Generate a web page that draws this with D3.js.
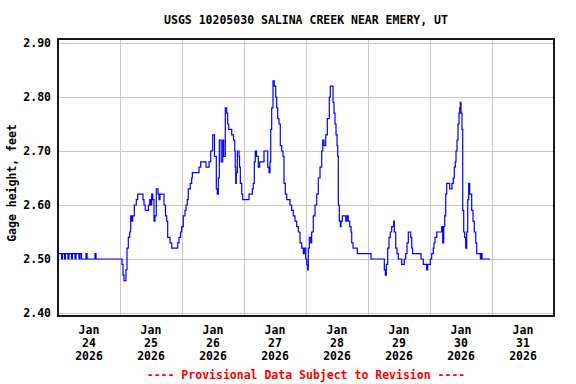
<!DOCTYPE html>
<html>
<head>
<meta charset="utf-8">
<script src="https://cdn.jsdelivr.net/npm/d3@7"></script>
<style>
  body { margin: 0; background: #fff; }
  text { font-family: "DejaVu Sans Mono", monospace; font-weight: bold; }
</style>
</head>
<body>
<div id="chart"></div>
<script>
// Gage height readings: [hours since Jan 24 2026 00:00, feet]
const readings = [
  [0.0, 2.51], [1.35, 2.50], [1.74, 2.51], [2.52, 2.50], [2.90, 2.51], [3.87, 2.50],
  [4.26, 2.51], [5.23, 2.50], [5.61, 2.51], [6.58, 2.50], [6.97, 2.51], [8.13, 2.50],
  [8.52, 2.51], [9.10, 2.50],
  [10.84, 2.51], [11.23, 2.50], [14.32, 2.51], [14.71, 2.50],
  [24.77, 2.49], [25.16, 2.47], [25.55, 2.46], [26.32, 2.48], [26.71, 2.52], [27.21, 2.54],
  [27.75, 2.55], [28.14, 2.58], [28.53, 2.57], [28.92, 2.58], [29.54, 2.60], [30.31, 2.61],
  [30.85, 2.62], [32.90, 2.61], [33.29, 2.60], [33.79, 2.59], [35.03, 2.60], [35.50, 2.61],
  [35.88, 2.60], [36.27, 2.62], [36.66, 2.61], [37.16, 2.57], [37.55, 2.58], [38.05, 2.63],
  [38.71, 2.62], [39.10, 2.61], [39.48, 2.62], [41.03, 2.60], [41.61, 2.58], [42.08, 2.57],
  [42.46, 2.54], [43.35, 2.53], [44.01, 2.52], [46.34, 2.53], [46.84, 2.54], [47.50, 2.55],
  [47.89, 2.56], [48.50, 2.58], [49.16, 2.59], [49.55, 2.60], [50.05, 2.61], [50.44, 2.63],
  [51.21, 2.64], [51.75, 2.65], [51.99, 2.66], [54.58, 2.67], [55.24, 2.68], [57.29, 2.67],
  [58.45, 2.68], [59.11, 2.70], [59.89, 2.73], [60.58, 2.69], [61.28, 2.63], [61.66, 2.62],
  [62.05, 2.65], [62.44, 2.72], [63.17, 2.68], [63.76, 2.72], [64.14, 2.69], [64.76, 2.78],
  [65.30, 2.77], [65.69, 2.75], [66.08, 2.74], [67.24, 2.73], [67.94, 2.72], [68.41, 2.70],
  [68.60, 2.67], [68.80, 2.64], [69.03, 2.66], [69.42, 2.70], [70.08, 2.69], [70.27, 2.67],
  [70.58, 2.64], [71.12, 2.62], [71.50, 2.61], [73.94, 2.62], [75.21, 2.63], [75.60, 2.64],
  [75.99, 2.68], [76.37, 2.70], [76.84, 2.69], [77.54, 2.67], [78.08, 2.68], [79.74, 2.70],
  [81.18, 2.67], [81.68, 2.66], [82.07, 2.68], [82.34, 2.74], [82.72, 2.78], [83.23, 2.83],
  [83.73, 2.82], [84.27, 2.80], [84.66, 2.78], [85.05, 2.76], [85.55, 2.75], [86.05, 2.71],
  [86.60, 2.70], [87.10, 2.69], [87.48, 2.64], [87.99, 2.62], [88.53, 2.61], [89.81, 2.60],
  [90.47, 2.59], [91.09, 2.58], [91.74, 2.57], [92.40, 2.56], [93.02, 2.55], [93.68, 2.53],
  [94.34, 2.52], [94.96, 2.51], [95.35, 2.52], [95.89, 2.50], [96.28, 2.49], [96.66, 2.48],
  [96.89, 2.52], [97.28, 2.54], [97.82, 2.53], [98.21, 2.55], [98.83, 2.58], [99.48, 2.60],
  [100.14, 2.62], [100.76, 2.65], [101.42, 2.67], [102.08, 2.70], [102.47, 2.72], [102.97, 2.71],
  [103.63, 2.73], [104.25, 2.76], [105.02, 2.80], [105.41, 2.82], [106.46, 2.79], [106.84, 2.77],
  [107.23, 2.75], [107.62, 2.73], [108.01, 2.71], [108.28, 2.69], [108.51, 2.60], [108.90, 2.57],
  [109.29, 2.56], [109.55, 2.57], [110.06, 2.58], [111.38, 2.57], [111.88, 2.58], [112.38, 2.57],
  [112.93, 2.56], [113.43, 2.55], [113.70, 2.53], [114.21, 2.52], [115.87, 2.51], [121.16, 2.50],
  [126.31, 2.48], [126.70, 2.47], [127.09, 2.49], [127.63, 2.52], [128.13, 2.54], [128.63, 2.55],
  [129.18, 2.56], [129.95, 2.57], [130.18, 2.55], [130.73, 2.52], [131.23, 2.51], [131.73, 2.50],
  [133.05, 2.49], [134.05, 2.50], [134.59, 2.51], [135.10, 2.53], [135.60, 2.55], [136.53, 2.54],
  [136.92, 2.52], [137.30, 2.51], [140.52, 2.50], [141.41, 2.49], [142.72, 2.48], [143.11, 2.49],
  [144.12, 2.50], [144.66, 2.51], [145.28, 2.52], [145.55, 2.53], [145.94, 2.54], [146.60, 2.55],
  [148.53, 2.56], [148.92, 2.53], [149.31, 2.56], [149.69, 2.58], [150.08, 2.62], [150.47, 2.64],
  [151.63, 2.63], [152.52, 2.64], [153.03, 2.65], [153.41, 2.67], [153.80, 2.68], [154.07, 2.70],
  [154.46, 2.72], [154.84, 2.75], [155.23, 2.77], [155.50, 2.78], [155.73, 2.79], [156.00, 2.77],
  [156.39, 2.74], [156.66, 2.59], [157.05, 2.55], [157.43, 2.54], [157.82, 2.52], [158.21, 2.55],
  [158.60, 2.61], [158.98, 2.64], [159.37, 2.62], [160.14, 2.59], [160.65, 2.57], [161.15, 2.55],
  [161.70, 2.53], [162.08, 2.51], [163.48, 2.50], [163.75, 2.51], [164.14, 2.50], [167.23, 2.50]
];

const yTicks = [2.40, 2.50, 2.60, 2.70, 2.80, 2.90];
const dayLabels = ['2026-01-24', '2026-01-25', '2026-01-26', '2026-01-27',
                   '2026-01-28', '2026-01-29', '2026-01-30', '2026-01-31'];

const title = 'USGS 10205030 SALINA CREEK NEAR EMERY, UT';
const yTitle = 'Gage height, feet';
const footer = '---- Provisional Data Subject to Revision ----';

class GageChart {
  constructor(_config, _data) {
    this.config = {
      parentElement: _config.parentElement,
      containerWidth: 576,
      containerHeight: 384,
      frame: {left: 58, right: 554, top: 39, bottom: 316}
    }
    this.data = _data;
    this.start = Date.UTC(2026, 0, 24);
    this.initVis();
  }

  initVis() {
    let vis = this;
    const f = vis.config.frame;

    vis.xScale = d3.scaleUtc()
      .domain([new Date(vis.start), new Date(Date.UTC(2026, 1, 1))])
      .range([f.left, f.right]);

    // 2.40 .. 2.90 sit a few pixels inside the frame
    vis.yScale = d3.scaleLinear()
      .domain([2.4, 2.9])
      .range([313, 43]);

    vis.svg = d3.select(vis.config.parentElement).append('svg')
      .attr('width', vis.config.containerWidth)
      .attr('height', vis.config.containerHeight);

    vis.gridG = vis.svg.append('g');
    vis.lineG = vis.svg.append('g');
    vis.labelG = vis.svg.append('g');

    vis.renderVis();
  }

  renderVis() {
    let vis = this;
    const f = vis.config.frame;

    // horizontal grid + y labels
    vis.gridG.selectAll('.hgrid')
      .data(yTicks)
      .join('line')
      .attr('class', 'hgrid')
      .attr('x1', f.left).attr('x2', f.right)
      .attr('y1', d => Math.round(vis.yScale(d)) + 0.5)
      .attr('y2', d => Math.round(vis.yScale(d)) + 0.5)
      .attr('stroke', '#c8c8c8');

    // vertical grid at each midnight
    const days = dayLabels.map(d => new Date(d + 'T00:00:00Z'));
    vis.gridG.selectAll('.vgrid')
      .data(days.slice(1))
      .join('line')
      .attr('class', 'vgrid')
      .attr('x1', d => Math.round(vis.xScale(d)) + 0.5)
      .attr('x2', d => Math.round(vis.xScale(d)) + 0.5)
      .attr('y1', f.top).attr('y2', f.bottom)
      .attr('stroke', '#c8c8c8');

    // the gage trace
    const line = d3.line()
      .x(d => vis.xScale(new Date(vis.start + d[0] * 3600e3)))
      .y(d => vis.yScale(d[1]))
      .curve(d3.curveStepAfter);

    vis.lineG.append('path')
      .datum(vis.data)
      .attr('d', line)
      .attr('fill', 'none')
      .attr('stroke', '#0000ff')
      .attr('stroke-width', 1.2);

    // frame
    vis.svg.append('rect')
      .attr('x', f.left).attr('y', f.top)
      .attr('width', f.right - f.left)
      .attr('height', f.bottom - f.top)
      .attr('fill', 'none')
      .attr('stroke', '#000')
      .attr('stroke-width', 1.8);

    vis.labelG.selectAll('.ylab')
      .data(yTicks)
      .join('text')
      .attr('class', 'ylab')
      .attr('x', 51)
      .attr('y', d => vis.yScale(d) + 4)
      .attr('text-anchor', 'end')
      .style('font-size', '11.5px')
      .text(d => d3.format('.2f')(d));

    // day labels centred at noon
    const fmt = [d3.utcFormat('%b'), d => String(d.getUTCDate()), d3.utcFormat('%Y')];
    const dayG = vis.labelG.selectAll('.daylab')
      .data(days)
      .join('text')
      .attr('class', 'daylab')
      .attr('text-anchor', 'middle')
      .style('font-size', '11.5px');
    dayG.selectAll('tspan')
      .data(d => fmt.map((fn, i) => ({t: fn(d), i: i, d: d})))
      .join('tspan')
      .attr('x', d => vis.xScale(new Date(d.d.getTime() + 12 * 3600e3)))
      .attr('y', d => 334 + d.i * 13)
      .text(d => d.t);

    vis.labelG.append('text')
      .attr('x', (f.left + f.right) / 2)
      .attr('y', 24)
      .attr('text-anchor', 'middle')
      .style('font-size', '11.5px')
      .text(title);

    vis.labelG.append('text')
      .attr('transform', 'translate(16,183) rotate(-90)')
      .attr('text-anchor', 'middle')
      .style('font-size', '11.5px')
      .text(yTitle);

    vis.labelG.append('text')
      .attr('x', (f.left + f.right) / 2)
      .attr('y', 379)
      .attr('text-anchor', 'middle')
      .attr('fill', '#ff0000')
      .style('font-size', '11.5px')
      .text(footer);
  }
}

new GageChart({parentElement: '#chart'}, readings);
</script>
</body>
</html>
